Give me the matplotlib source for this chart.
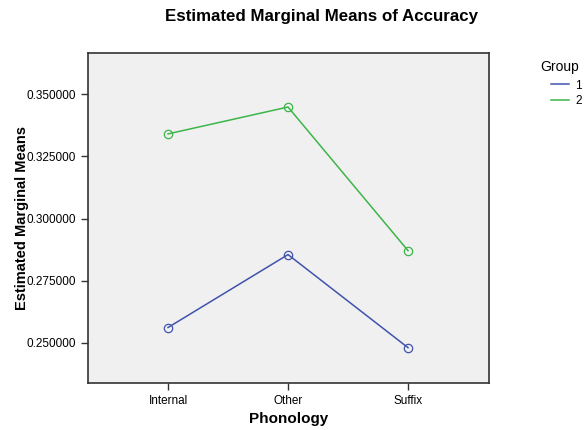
from matplotlib import pyplot as plt

plt.rcParams['font.family'] = ['Liberation Sans', 'DejaVu Sans']

categories = ['Internal', 'Other', 'Suffix']
group1 = [0.2562, 0.2855, 0.2481]
group2 = [0.3340, 0.3448, 0.2871]
groups = ['1', '2']
colors = ['#3f53ad', '#3cb54a']
yticks = [0.25, 0.275, 0.30, 0.325, 0.35]

fig = plt.figure(figsize=(5.85, 4.30), dpi=100)
ax = fig.add_axes([0.1504, 0.1093, 0.6855, 0.7674])
ax.set_facecolor('#f0f0f0')

x = range(len(categories))
lines = []
for vals, col, lab in zip([group1, group2], colors, groups):
    ax.plot(x, vals, '-', color=col, lw=1.1,
            marker='o', markersize=6, markerfacecolor='none', markeredgecolor=col, markeredgewidth=0.9)
    lines.append(plt.Line2D([], [], color=col, lw=1.1, label=lab))

ax.set_xlim(-0.667, 2.675)
ax.set_ylim(0.2339, 0.3665)
ax.set_xticks(list(x))
ax.set_xticklabels(categories, fontsize=8.5)
ax.set_yticks(yticks)
ax.set_yticklabels(['%.6f' % v for v in yticks], fontsize=8.5)
ax.tick_params(direction='out', length=5, width=1, color='#333333')
for s in ax.spines.values():
    s.set_color('#333333')
    s.set_linewidth(1.2)

ax.set_xlabel('Phonology', fontsize=11, fontweight='bold')
ax.xaxis.set_label_coords(0.5, -0.088)
ax.set_ylabel('Estimated Marginal Means', fontsize=10.5, fontweight='bold')
ax.yaxis.set_label_coords(-0.147, 0.5)
fig.text(0.549, 0.962, 'Estimated Marginal Means of Accuracy', fontsize=12.2, fontweight='bold',
         ha='center', va='center')

# legend: title as plain text, entries as a borderless legend
fig.text(540 / 585, 1 - 67 / 430, 'Group', fontsize=10, ha='left', va='center')
fig.legend(handles=lines, loc='upper left', bbox_to_anchor=(0.942, 0.815), frameon=False,
           fontsize=8.5, handlelength=1.55, handletextpad=0.5, labelspacing=0.3,
           borderpad=0, borderaxespad=0)

plt.savefig('out.png', dpi=100)
